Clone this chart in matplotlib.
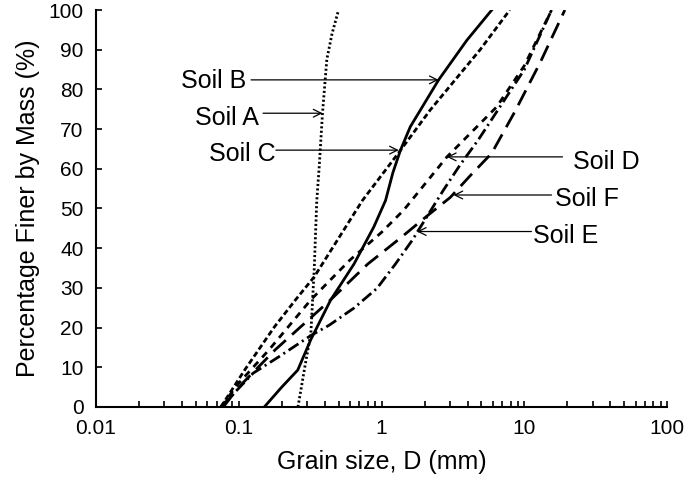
import matplotlib
matplotlib.use("Agg")
import matplotlib.pyplot as plt
from matplotlib.ticker import LogLocator, FixedLocator, FixedFormatter, NullFormatter

plt.rcParams['font.family'] = ['Liberation Sans', 'DejaVu Sans']
plt.rcParams['lines.scale_dashes'] = False

# grain size curves (D in mm, percent finer)
soil_a_d = [0.26, 0.29, 0.32, 0.338, 0.352, 0.366, 0.386, 0.414, 0.45, 0.5]
soil_a_p = [0, 10, 18.6, 35, 52, 60.5, 74, 87.6, 94, 100]

soil_b_d = [0.075, 0.11, 0.178, 0.25, 0.338, 0.734, 1.36, 2.19, 4.9, 7.9]
soil_b_p = [0, 9.3, 20.2, 27, 32.8, 52, 64.7, 74.8, 90, 100]

soil_c_d = [0.151, 0.2, 0.259, 0.32, 0.441, 0.641, 0.884, 1.066, 1.2, 1.357, 1.59, 2.51, 3.96, 5.91]
soil_c_p = [0, 5, 9.3, 17, 27, 36, 45.4, 52, 59, 64.7, 70.6, 82.4, 92.4, 100]

soil_d_d = [0.075, 0.1, 0.163, 0.32, 0.6, 1.0, 1.43, 2.87, 6.4, 10, 15.5]
soil_d_p = [0, 6, 14.4, 27, 37, 44, 49.6, 63, 75.6, 86, 100]

soil_e_d = [0.075, 0.126, 0.192, 0.32, 0.43, 0.64, 0.93, 1.25, 1.64, 2.72, 3.55, 4.76, 6.2, 10, 15.5]
soil_e_p = [0, 8.5, 12.7, 18, 20.6, 24.9, 29.9, 36, 42, 54.7, 61, 67.3, 73.6, 85, 100]

soil_f_d = [0.078, 0.1, 0.18, 0.44, 0.8, 1.36, 2.08, 3.03, 4.21, 5.9, 8.58, 13, 19.2]
soil_f_p = [0, 5, 14.4, 27, 36, 42.6, 48.1, 52.8, 58.4, 63.9, 74.4, 87, 100]

x_ticks = [0.01, 0.1, 1, 10, 100]
x_labels = ['0.01', '0.1', '1', '10', '100']
y_ticks = list(range(0, 101, 10))

fig = plt.figure(figsize=(6.85, 4.86), dpi=100)
ax = fig.add_axes([0.140, 0.1626, 0.834, 0.8168])

lw = 2.0
ax.plot(soil_a_d, soil_a_p, color='black', lw=2.0, dashes=(1.5, 1.7))
ax.plot(soil_b_d, soil_b_p, color='black', lw=lw, dashes=(4, 2.2))
ax.plot(soil_c_d, soil_c_p, color='black', lw=lw)
ax.plot(soil_d_d, soil_d_p, color='black', lw=lw, dashes=(5, 4.3))
ax.plot(soil_e_d, soil_e_p, color='black', lw=lw, dashes=(8.5, 3, 1.5, 3))
ax.plot(soil_f_d, soil_f_p, color='black', lw=lw, dashes=(12, 6))

ax.set_xscale('log')
ax.set_xlim(0.01, 100)
ax.set_ylim(0, 100)
ax.xaxis.set_major_locator(FixedLocator(x_ticks))
ax.xaxis.set_major_formatter(FixedFormatter(x_labels))
ax.xaxis.set_minor_locator(LogLocator(base=10, subs=range(2, 10)))
ax.xaxis.set_minor_formatter(NullFormatter())
ax.set_yticks(y_ticks)

for side in ['top', 'right']:
    ax.spines[side].set_visible(False)
for side in ['left', 'bottom']:
    ax.spines[side].set_linewidth(1.5)

ax.tick_params(axis='both', which='both', direction='in', width=1.2, labelsize=15)
ax.tick_params(axis='both', which='major', length=4, pad=9)
ax.tick_params(axis='x', which='minor', length=4)

ax.set_xlabel('Grain size, D (mm)', fontsize=18, labelpad=8)
ax.set_ylabel('Percentage Finer by Mass (%)', fontsize=18, labelpad=6)

# labels with arrows: (text, text x, text align, text y, tail x, target x, arrow y)
labels = [
    ('Soil B', 0.113, 'right', 82.0, 0.122, 2.51, 82.4),
    ('Soil A', 0.139, 'right', 72.9, 0.148, 0.386, 74.0),
    ('Soil C', 0.1825, 'right', 63.7, 0.182, 1.32, 64.7),
    ('Soil D', 21.8, 'left', 61.8, 18.5, 2.87, 63.0),
    ('Soil F', 16.3, 'left', 52.4, 15.5, 3.19, 53.4),
    ('Soil E', 11.5, 'left', 43.1, 11.2, 1.77, 44.2),
]
for name, tx, ha, ty, tail, target, ay in labels:
    ax.text(tx, ty, name, ha=ha, va='center', fontsize=18)
    ax.annotate('', xy=(target, ay), xytext=(tail, ay),
                arrowprops=dict(arrowstyle='->', color='black', lw=0.9,
                                shrinkA=0, shrinkB=0, mutation_scale=14))

fig.savefig('out.png', dpi=100)
